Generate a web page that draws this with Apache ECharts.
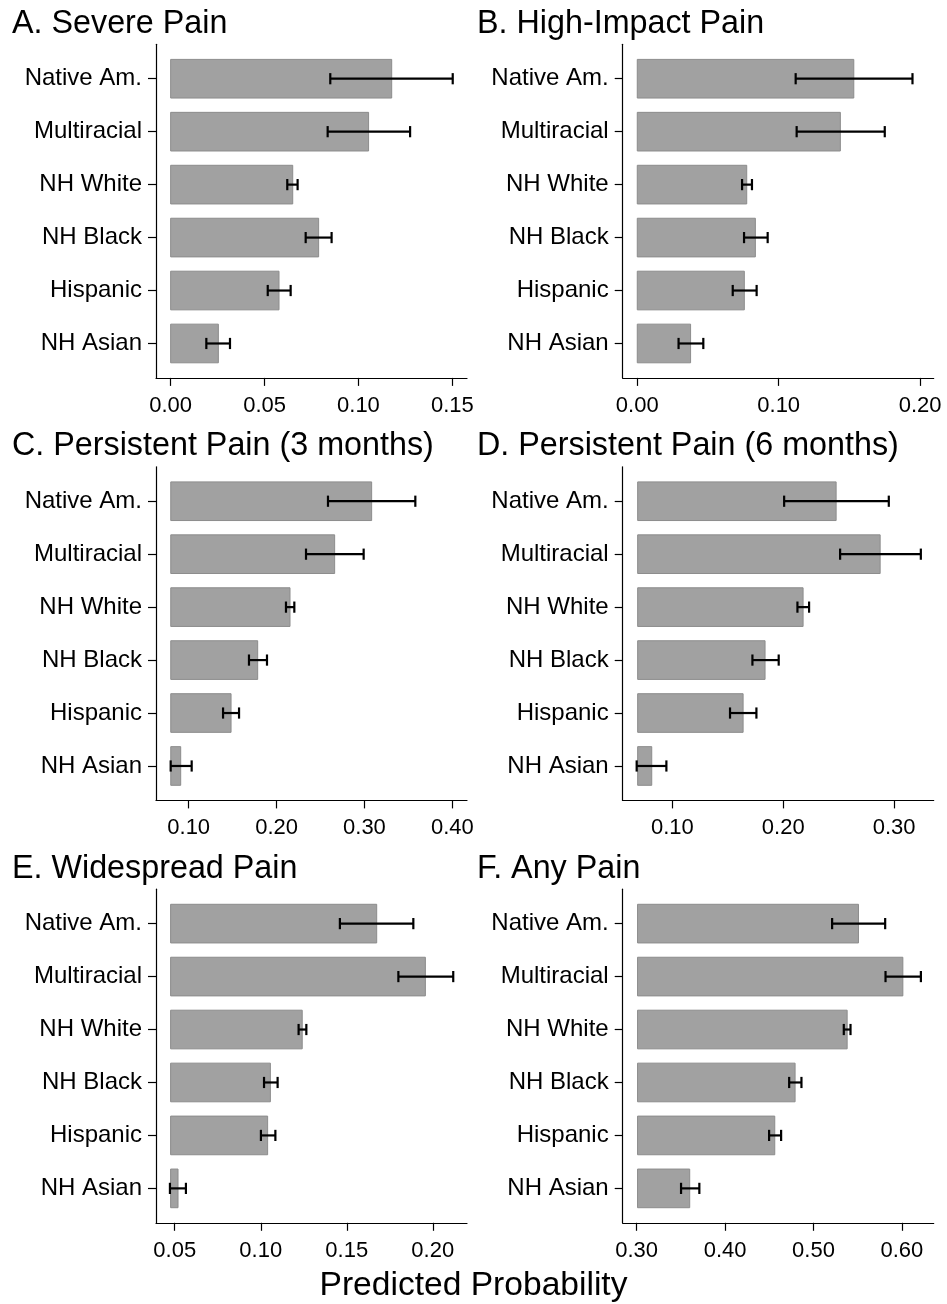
<!DOCTYPE html>
<html>
<head>
<meta charset="utf-8">
<script src="https://cdn.jsdelivr.net/npm/echarts@6/dist/echarts.min.js"></script>
<style>
  html, body { margin: 0; padding: 0; background: #fff; }
  #chart { width: 947px; height: 1304px; }
</style>
</head>
<body>
<div id="chart"></div>
<script>
// Groups, listed top to bottom in every panel
const categories = ['Native Am.', 'Multiracial', 'NH White', 'NH Black', 'Hispanic', 'NH Asian'];

const panelTitles = [
  'A. Severe Pain',
  'B. High-Impact Pain',
  'C. Persistent Pain (3 months)',
  'D. Persistent Pain (6 months)',
  'E. Widespread Pain',
  'F. Any Pain'
];

// Predicted probabilities with 95% confidence limits
const severeEst = [0.1177, 0.1054, 0.0650, 0.0788, 0.0577, 0.0254];
const severeLo  = [0.0850, 0.0836, 0.0621, 0.0719, 0.0517, 0.0190];
const severeHi  = [0.1502, 0.1275, 0.0676, 0.0857, 0.0639, 0.0316];

const highImpactEst = [0.1531, 0.1436, 0.0774, 0.0835, 0.0757, 0.0377];
const highImpactLo  = [0.1120, 0.1127, 0.0741, 0.0755, 0.0675, 0.0292];
const highImpactHi  = [0.1946, 0.1750, 0.0811, 0.0922, 0.0844, 0.0467];

const persist3Est = [0.3082, 0.2661, 0.2153, 0.1785, 0.1482, 0.0909];
const persist3Lo  = [0.2585, 0.2335, 0.2107, 0.1686, 0.1391, 0.0795];
const persist3Hi  = [0.3579, 0.2991, 0.2202, 0.1891, 0.1573, 0.1034];

const persist6Est = [0.2477, 0.2874, 0.2179, 0.1836, 0.1638, 0.0814];
const persist6Lo  = [0.2008, 0.2513, 0.2128, 0.1722, 0.1520, 0.0678];
const persist6Hi  = [0.2952, 0.3241, 0.2233, 0.1959, 0.1758, 0.0946];

const widespreadEst = [0.1674, 0.1957, 0.1241, 0.1056, 0.1040, 0.0519];
const widespreadLo  = [0.1460, 0.1800, 0.1220, 0.1019, 0.1001, 0.0472];
const widespreadHi  = [0.1887, 0.2119, 0.1265, 0.1098, 0.1085, 0.0565];

const anyPainEst = [0.5509, 0.6011, 0.5381, 0.4792, 0.4562, 0.3600];
const anyPainLo  = [0.5211, 0.5815, 0.5343, 0.4725, 0.4498, 0.3502];
const anyPainHi  = [0.5811, 0.6215, 0.5419, 0.4864, 0.4634, 0.3709];

// Where the bars start, and the extent of each x axis
const barBases = [0, 0, 0.0796, 0.0687, 0.0476, 0.301];
const axisMins = [-0.0078, -0.0103, 0.0628, 0.0552, 0.0391, 0.2842];
const axisMaxs = [0.1578, 0.2096, 0.4167, 0.3357, 0.2199, 0.6360];

// Tick marks of each x axis
const ticksA = [0, 0.05, 0.10, 0.15];
const ticksB = [0, 0.10, 0.20];
const ticksC = [0.10, 0.20, 0.30, 0.40];
const ticksD = [0.10, 0.20, 0.30];
const ticksE = [0.05, 0.10, 0.15, 0.20];
const ticksF = [0.30, 0.40, 0.50, 0.60];

const xAxisTitle = 'Predicted Probability';

const panels = [
  { est: severeEst, lo: severeLo, hi: severeHi, ticks: ticksA },
  { est: highImpactEst, lo: highImpactLo, hi: highImpactHi, ticks: ticksB },
  { est: persist3Est, lo: persist3Lo, hi: persist3Hi, ticks: ticksC },
  { est: persist6Est, lo: persist6Lo, hi: persist6Hi, ticks: ticksD },
  { est: widespreadEst, lo: widespreadLo, hi: widespreadHi, ticks: ticksE },
  { est: anyPainEst, lo: anyPainLo, hi: anyPainHi, ticks: ticksF }
];

const FONT = "'Liberation Sans', Arial, Helvetica, sans-serif";
const colLeft = [156, 622.7];
const rowTop = [44.3, 466.8, 889.2];
const plotW = 311;
const plotH = 333.6;
const catIdx = categories.map((_, i) => i);

function barRenderer(base) {
  return function (params, api) {
    const v = api.value(0), i = api.value(1), lo = api.value(2), hi = api.value(3);
    const p0 = api.coord([base, i]);
    const p1 = api.coord([v, i]);
    const pl = api.coord([lo, i]);
    const ph = api.coord([hi, i]);
    const h = api.size([0, 0.73])[1];
    const cap = 5.6;
    const line = { stroke: '#000', lineWidth: 2.2 };
    return {
      type: 'group',
      children: [
        { type: 'rect', shape: { x: p0[0], y: p0[1] - h / 2, width: p1[0] - p0[0], height: h },
          style: { fill: '#a1a1a1', stroke: '#8c8c8c', lineWidth: 1 } },
        { type: 'line', shape: { x1: pl[0], y1: pl[1], x2: ph[0], y2: ph[1] }, style: line },
        { type: 'line', shape: { x1: pl[0], y1: pl[1] - cap, x2: pl[0], y2: pl[1] + cap }, style: line },
        { type: 'line', shape: { x1: ph[0], y1: ph[1] - cap, x2: ph[0], y2: ph[1] + cap }, style: line }
      ]
    };
  };
}

const grids = [], xAxes = [], yAxes = [], series = [], titles = [];
const axisLineStyle = { color: '#000', width: 1.2 };

panels.forEach((p, k) => {
  const col = k % 2, row = Math.floor(k / 2);
  grids.push({ left: colLeft[col], top: rowTop[row], width: plotW, height: plotH });
  xAxes.push({
    type: 'value', gridIndex: k, min: axisMins[k], max: axisMaxs[k],
    axisLine: { show: true, onZero: false, lineStyle: axisLineStyle },
    axisTick: { show: true, length: 8, lineStyle: axisLineStyle, customValues: p.ticks },
    axisLabel: { customValues: p.ticks, formatter: v => v.toFixed(2), margin: 17,
                 fontSize: 22, color: '#000', fontFamily: FONT },
    splitLine: { show: false }
  });
  yAxes.push({
    type: 'value', gridIndex: k, inverse: true, min: -0.65, max: 5.65,
    axisLine: { show: true, onZero: false, lineStyle: axisLineStyle },
    axisTick: { show: true, length: 8, lineStyle: axisLineStyle, customValues: catIdx },
    axisLabel: { customValues: catIdx, formatter: v => categories[Math.round(v)], margin: 14,
                 fontSize: 24, color: '#000', fontFamily: FONT },
    splitLine: { show: false }
  });
  series.push({
    type: 'custom', xAxisIndex: k, yAxisIndex: k,
    renderItem: barRenderer(barBases[k]),
    encode: { x: 0, y: 1 },
    data: p.est.map((v, i) => [v, i, p.lo[i], p.hi[i]])
  });
  titles.push({
    text: panelTitles[k], left: col === 0 ? 12 : 477, top: 8 + row * 422.5, padding: 0,
    textStyle: { fontSize: 32.3, fontWeight: 'normal', color: '#000', fontFamily: FONT }
  });
});

titles.push({
  text: xAxisTitle, left: 'center', top: 1269, padding: 0,
  textStyle: { fontSize: 33.6, fontWeight: 'normal', color: '#000', fontFamily: FONT }
});

const chart = echarts.init(document.getElementById('chart'), null, { renderer: 'canvas' });
chart.setOption({
  animation: false,
  backgroundColor: '#fff',
  title: titles,
  grid: grids,
  xAxis: xAxes,
  yAxis: yAxes,
  series: series
});
</script>
</body>
</html>
